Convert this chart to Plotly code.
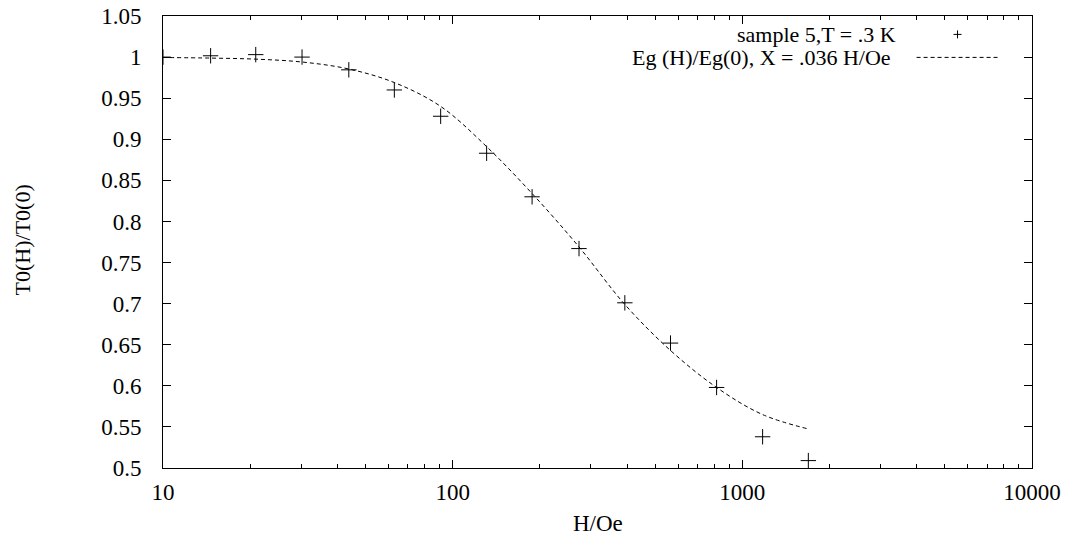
import plotly.graph_objects as go

# measured data: sample 5, T = .3 K
H_data = [10, 14.6, 20.9, 30.2, 43.8, 62.9, 90.9, 131, 188, 273, 393, 565, 815, 1175, 1690]
T_ratio = [1.000, 1.0016, 1.003, 1.000, 0.9845, 0.960, 0.928, 0.883, 0.830, 0.767, 0.701, 0.652, 0.598, 0.538, 0.509]

# fitted curve Eg(H)/Eg(0)
H_fit = [10, 14.6, 20.9, 30.2, 43.8, 62.9, 90.9, 131, 188, 273, 393, 565, 815, 1175, 1690]
Eg_fit = [0.9995, 0.9988, 0.9975, 0.994, 0.9855, 0.969, 0.940, 0.891, 0.834, 0.769, 0.699, 0.643, 0.598, 0.565, 0.5475]

x_major = [10, 100, 1000, 10000]
x_major_text = ["10", "100", "1000", "10000"]
x_minor = [m * d for d in (10, 100, 1000) for m in range(2, 10)]
y_ticks = [0.5, 0.55, 0.6, 0.65, 0.7, 0.75, 0.8, 0.85, 0.9, 0.95, 1.0, 1.05]
y_ticktext = ["0.5", "0.55", "0.6", "0.65", "0.7", "0.75", "0.8", "0.85", "0.9", "0.95", "1", "1.05"]

legend_data = "sample 5,T = .3 K"
legend_fit = "Eg (H)/Eg(0), X = .036 H/Oe"

FONT = "Liberation Serif"
FS = 23

# page body has an 8px margin: figure sized to fit the window exactly
W, H = 1063, 529

fig = go.Figure()
fig.add_trace(go.Scatter(
    x=H_fit, y=Eg_fit, mode="lines", line=dict(color="black", width=1, dash="4px,3px", shape="spline", smoothing=1),
    name=legend_fit, showlegend=False))
fig.add_trace(go.Scatter(
    x=H_data, y=T_ratio, mode="markers",
    marker=dict(symbol="cross-thin", size=11, line=dict(color="black", width=1)),
    name=legend_data, showlegend=False))
# invisible trace for the minor-tick axis
fig.add_trace(go.Scatter(x=[10], y=[1], xaxis="x2", mode="markers", marker=dict(opacity=0),
                         showlegend=False, hoverinfo="skip"))

fig.update_layout(
    width=W, height=H,
    margin=dict(l=155, r=38.5, t=7.6, b=69.3, autoexpand=False),
    paper_bgcolor="white", plot_bgcolor="white",
    font=dict(family=FONT, size=FS, color="black"),
    xaxis=dict(type="log", range=[1, 4], tickvals=x_major, ticktext=x_major_text, automargin=False,
               ticks="inside", ticklen=8, tickcolor="black", tickwidth=1,
               showline=True, linecolor="black", linewidth=1, mirror="ticks",
               showgrid=False, zeroline=False, ticklabelstandoff=3, ticklabeloverflow="allow"),
    xaxis2=dict(type="log", range=[1, 4], overlaying="x", anchor="y", side="bottom", automargin=False,
                tickvals=x_minor, showticklabels=False,
                ticks="inside", ticklen=4, tickcolor="black", tickwidth=1,
                showline=False, mirror="ticks", showgrid=False, zeroline=False),
    yaxis=dict(range=[0.5, 1.05], tickvals=y_ticks, ticktext=y_ticktext, automargin=False,
               ticks="inside", ticklen=8, tickcolor="black", tickwidth=1,
               showline=True, linecolor="black", linewidth=1, mirror="ticks",
               showgrid=False, zeroline=False, ticklabelstandoff=16, ticklabeloverflow="allow"),
    showlegend=False,
)

# helpers: screen pixel -> paper fraction (plot area spans 163..1032.5 x 15.6..467.7 on screen)
def px_x(p):
    return (p - 163) / (1032.5 - 163)

def px_y(p):
    return (467.7 - p) / (467.7 - 15.6)

# axis titles
fig.add_annotation(text="H/Oe", xref="paper", yref="paper", x=0.5, y=px_y(523),
                   xanchor="center", yanchor="middle", showarrow=False, font=dict(size=FS))
fig.add_annotation(text="T0(H)/T0(0)", xref="paper", yref="paper", x=px_x(22), y=px_y(240),
                   xanchor="center", yanchor="middle", textangle=-90, showarrow=False, font=dict(size=22))

# gnuplot-style legend (text right-aligned, sample on the right)
fig.add_annotation(text=legend_data, xref="paper", yref="paper", x=px_x(898), y=px_y(34),
                   xanchor="right", yanchor="middle", showarrow=False, font=dict(size=22))
fig.add_annotation(text=legend_fit, xref="paper", yref="paper", x=px_x(893), y=px_y(57),
                   xanchor="right", yanchor="middle", showarrow=False, font=dict(size=22))
# legend samples
fig.add_shape(type="line", xref="paper", yref="paper", x0=px_x(954), x1=px_x(962), y0=px_y(34), y1=px_y(34),
              line=dict(color="black", width=1))
fig.add_shape(type="line", xref="paper", yref="paper", x0=px_x(958), x1=px_x(958), y0=px_y(30), y1=px_y(38),
              line=dict(color="black", width=1))
fig.add_shape(type="line", xref="paper", yref="paper", x0=px_x(917), x1=px_x(998), y0=px_y(57), y1=px_y(57),
              line=dict(color="black", width=1, dash="4px,3px"))

fig.write_html("out.html")
